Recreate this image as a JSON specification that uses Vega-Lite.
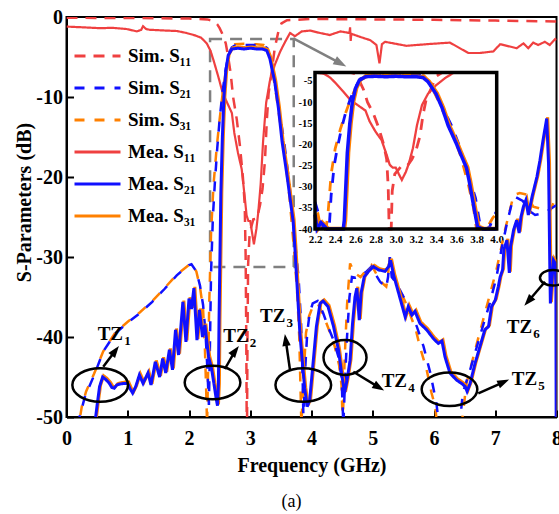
{
"$schema":"https://vega.github.io/schema/vega-lite/v6.json",
"width":490,"height":400,
"autosize":{"type":"none"},
"padding":{"left":66.5,"top":17,"right":2.5,"bottom":97},
"title":{"text":"(a)","orient":"bottom","anchor":"middle","font":"Liberation Serif","fontSize":18,"fontWeight":"normal","color":"black","offset":18,"dx":-20},
"datasets":{
"s11s":[{"f":0,"s11s":-0.1},{"f":1,"s11s":-0.12},{"f":2,"s11s":-0.2},{"f":2.3,"s11s":-0.3},{"f":2.4,"s11s":-0.5},{"f":2.46,"s11s":-0.9},{"f":2.5,"s11s":-1.4},{"f":2.55,"s11s":-2.2},{"f":2.6,"s11s":-3.3},{"f":2.64,"s11s":-5},{"f":2.68,"s11s":-7},{"f":2.72,"s11s":-10},{"f":2.78,"s11s":-12.8},{"f":2.83,"s11s":-16},{"f":2.88,"s11s":-20},{"f":2.91,"s11s":-23.5},{"f":2.925,"s11s":-30},{"f":2.935,"s11s":-40},{"f":2.945,"s11s":-55},{"f":2.955,"s11s":-40},{"f":2.965,"s11s":-31},{"f":2.99,"s11s":-27},{"f":3.05,"s11s":-25.3},{"f":3.11,"s11s":-25.2},{"f":3.16,"s11s":-23.5},{"f":3.2,"s11s":-21.5},{"f":3.24,"s11s":-18},{"f":3.27,"s11s":-13},{"f":3.3,"s11s":-9.5},{"f":3.35,"s11s":-6.8},{"f":3.4,"s11s":-3.9},{"f":3.46,"s11s":-1.8},{"f":3.51,"s11s":-0.8},{"f":3.6,"s11s":-0.4},{"f":4,"s11s":-0.25},{"f":5,"s11s":-0.3},{"f":6,"s11s":-0.35},{"f":7,"s11s":-0.45},{"f":8,"s11s":-0.55}],
"s11m":[{"f":0,"s11m":-1.2},{"f":0.3,"s11m":-1.3},{"f":0.55,"s11m":-1.4},{"f":0.75,"s11m":-1.35},{"f":0.98,"s11m":-1.5},{"f":1.15,"s11m":-1.8},{"f":1.22,"s11m":-1.6},{"f":1.25,"s11m":-1.15},{"f":1.3,"s11m":-1.5},{"f":1.36,"s11m":-1.6},{"f":1.64,"s11m":-1.7},{"f":1.8,"s11m":-1.75},{"f":1.96,"s11m":-2.0},{"f":2.1,"s11m":-2.3},{"f":2.2,"s11m":-2.6},{"f":2.29,"s11m":-3.3},{"f":2.35,"s11m":-4.2},{"f":2.4,"s11m":-5.4},{"f":2.48,"s11m":-7.5},{"f":2.55,"s11m":-9.5},{"f":2.64,"s11m":-11.0},{"f":2.7,"s11m":-12},{"f":2.74,"s11m":-14.5},{"f":2.8,"s11m":-17.0},{"f":2.86,"s11m":-19},{"f":2.91,"s11m":-22.5},{"f":2.94,"s11m":-24.8},{"f":2.97,"s11m":-25.5},{"f":3.0,"s11m":-25.5},{"f":3.03,"s11m":-27},{"f":3.06,"s11m":-28.4},{"f":3.1,"s11m":-26.5},{"f":3.13,"s11m":-24.5},{"f":3.17,"s11m":-20.9},{"f":3.21,"s11m":-15.5},{"f":3.26,"s11m":-10.7},{"f":3.32,"s11m":-8.0},{"f":3.4,"s11m":-6.0},{"f":3.49,"s11m":-4.3},{"f":3.57,"s11m":-3.1},{"f":3.65,"s11m":-2.0},{"f":3.73,"s11m":-2.4},{"f":3.84,"s11m":-1.8},{"f":3.98,"s11m":-1.7},{"f":4.14,"s11m":-2.0},{"f":4.3,"s11m":-2.25},{"f":4.47,"s11m":-1.8},{"f":4.62,"s11m":-2.0},{"f":4.63,"s11m":-1.3},{"f":4.64,"s11m":-3.0},{"f":4.65,"s11m":-2.1},{"f":4.8,"s11m":-2.5},{"f":4.96,"s11m":-2.9},{"f":5.06,"s11m":-3.5},{"f":5.11,"s11m":-5.8},{"f":5.15,"s11m":-3.4},{"f":5.2,"s11m":-3.1},{"f":5.55,"s11m":-3.6},{"f":5.88,"s11m":-3.4},{"f":6.26,"s11m":-3.2},{"f":6.56,"s11m":-4.5},{"f":6.75,"s11m":-4.5},{"f":6.97,"s11m":-4.3},{"f":7.08,"s11m":-3.4},{"f":7.35,"s11m":-3.9},{"f":7.46,"s11m":-3.3},{"f":7.54,"s11m":-3.9},{"f":7.62,"s11m":-3.2},{"f":7.7,"s11m":-3.5},{"f":7.81,"s11m":-3.1},{"f":7.89,"s11m":-3.5},{"f":7.98,"s11m":-2.75},{"f":8.0,"s11m":-2.9}],
"s21s":[{"f":0.18,"s21s":-51},{"f":0.23,"s21s":-49.5},{"f":0.3,"s21s":-47.5},{"f":0.45,"s21s":-44.8},{"f":0.6,"s21s":-41.8},{"f":0.8,"s21s":-39.5},{"f":1.0,"s21s":-38.2},{"f":1.2,"s21s":-37},{"f":1.4,"s21s":-35.6},{"f":1.6,"s21s":-34},{"f":1.8,"s21s":-32.3},{"f":2.0,"s21s":-31.0},{"f":2.04,"s21s":-30.9},{"f":2.12,"s21s":-31.8},{"f":2.18,"s21s":-33.6},{"f":2.23,"s21s":-36},{"f":2.27,"s21s":-39.5},{"f":2.3,"s21s":-44},{"f":2.325,"s21s":-48.5},{"f":2.34,"s21s":-42},{"f":2.36,"s21s":-32},{"f":2.39,"s21s":-25},{"f":2.42,"s21s":-21},{"f":2.46,"s21s":-16.5},{"f":2.5,"s21s":-12.8},{"f":2.55,"s21s":-9.2},{"f":2.6,"s21s":-6.5},{"f":2.65,"s21s":-4.5},{"f":2.7,"s21s":-3.8},{"f":2.75,"s21s":-3.55},{"f":2.9,"s21s":-3.5},{"f":3.1,"s21s":-3.5},{"f":3.22,"s21s":-3.6},{"f":3.28,"s21s":-3.9},{"f":3.33,"s21s":-5.3},{"f":3.42,"s21s":-9.1},{"f":3.55,"s21s":-15.4},{"f":3.64,"s21s":-20.9},{"f":3.72,"s21s":-27.2},{"f":3.79,"s21s":-32.7},{"f":3.83,"s21s":-38.3},{"f":3.855,"s21s":-45},{"f":3.87,"s21s":-51},{"f":3.89,"s21s":-45},{"f":3.93,"s21s":-39.5},{"f":3.97,"s21s":-37},{"f":4.02,"s21s":-35.8},{"f":4.1,"s21s":-35.5},{"f":4.19,"s21s":-37},{"f":4.27,"s21s":-38.7},{"f":4.36,"s21s":-40.4},{"f":4.44,"s21s":-42.5},{"f":4.49,"s21s":-45},{"f":4.52,"s21s":-51},{"f":4.55,"s21s":-45},{"f":4.58,"s21s":-40},{"f":4.62,"s21s":-35},{"f":4.66,"s21s":-32.5},{"f":4.72,"s21s":-32.6},{"f":4.8,"s21s":-32.4},{"f":4.9,"s21s":-31.8},{"f":4.98,"s21s":-31.2},{"f":5.05,"s21s":-32.2},{"f":5.12,"s21s":-33.1},{"f":5.22,"s21s":-33.8},{"f":5.25,"s21s":-32.5},{"f":5.28,"s21s":-30},{"f":5.31,"s21s":-32.5},{"f":5.39,"s21s":-33.3},{"f":5.53,"s21s":-35.4},{"f":5.72,"s21s":-38.7},{"f":5.83,"s21s":-41.2},{"f":5.94,"s21s":-44.5},{"f":6.04,"s21s":-48.3},{"f":6.08,"s21s":-51},{"f":6.42,"s21s":-51},{"f":6.47,"s21s":-47},{"f":6.59,"s21s":-44.1},{"f":6.78,"s21s":-39.1},{"f":6.91,"s21s":-35.8},{"f":7.02,"s21s":-32.5},{"f":7.1,"s21s":-29.1},{"f":7.19,"s21s":-25.8},{"f":7.27,"s21s":-23.3},{"f":7.33,"s21s":-22.5},{"f":7.45,"s21s":-23.0},{"f":7.57,"s21s":-24.3},{"f":7.65,"s21s":-24.75},{"f":7.8,"s21s":-24.5},{"f":7.92,"s21s":-23.9},{"f":8.0,"s21s":-23.5}],
"s31s":[{"f":0.2,"s31s":-51},{"f":0.25,"s31s":-48.7},{"f":0.32,"s31s":-46.8},{"f":0.45,"s31s":-44.6},{"f":0.6,"s31s":-41.8},{"f":0.8,"s31s":-39.4},{"f":1.0,"s31s":-38.1},{"f":1.2,"s31s":-36.9},{"f":1.4,"s31s":-35.5},{"f":1.6,"s31s":-33.9},{"f":1.8,"s31s":-32.2},{"f":2.0,"s31s":-31.0},{"f":2.04,"s31s":-30.85},{"f":2.12,"s31s":-31.8},{"f":2.18,"s31s":-33.8},{"f":2.23,"s31s":-36.5},{"f":2.26,"s31s":-41.5},{"f":2.28,"s31s":-46.5},{"f":2.295,"s31s":-51},{"f":2.31,"s31s":-45},{"f":2.33,"s31s":-36},{"f":2.36,"s31s":-27},{"f":2.4,"s31s":-21},{"f":2.45,"s31s":-16.5},{"f":2.5,"s31s":-12.8},{"f":2.55,"s31s":-9.5},{"f":2.6,"s31s":-6.8},{"f":2.65,"s31s":-4.7},{"f":2.7,"s31s":-3.7},{"f":2.75,"s31s":-3.4},{"f":2.9,"s31s":-3.35},{"f":3.1,"s31s":-3.4},{"f":3.22,"s31s":-3.5},{"f":3.28,"s31s":-3.8},{"f":3.33,"s31s":-5.2},{"f":3.42,"s31s":-9.6},{"f":3.55,"s31s":-16.5},{"f":3.64,"s31s":-22.5},{"f":3.72,"s31s":-29.5},{"f":3.77,"s31s":-35},{"f":3.8,"s31s":-40},{"f":3.835,"s31s":-51},{"f":3.87,"s31s":-45},{"f":3.91,"s31s":-39.5},{"f":3.96,"s31s":-37.4},{"f":4.02,"s31s":-36.2},{"f":4.1,"s31s":-35.8},{"f":4.19,"s31s":-37.2},{"f":4.28,"s31s":-39},{"f":4.38,"s31s":-41.2},{"f":4.45,"s31s":-43.5},{"f":4.49,"s31s":-46},{"f":4.51,"s31s":-51},{"f":4.54,"s31s":-43},{"f":4.58,"s31s":-36},{"f":4.63,"s31s":-30.8},{"f":4.7,"s31s":-32},{"f":4.8,"s31s":-32.5},{"f":4.9,"s31s":-31.6},{"f":4.98,"s31s":-31},{"f":5.05,"s31s":-32},{"f":5.12,"s31s":-33},{"f":5.22,"s31s":-33.7},{"f":5.25,"s31s":-32.5},{"f":5.27,"s31s":-29.8},{"f":5.3,"s31s":-32.3},{"f":5.39,"s31s":-33.2},{"f":5.53,"s31s":-35.6},{"f":5.7,"s31s":-39},{"f":5.77,"s31s":-41.2},{"f":5.88,"s31s":-44.1},{"f":5.96,"s31s":-47},{"f":6.02,"s31s":-48.7},{"f":6.05,"s31s":-51},{"f":6.45,"s31s":-51},{"f":6.53,"s31s":-45.8},{"f":6.7,"s31s":-40.8},{"f":6.86,"s31s":-36.2},{"f":7.02,"s31s":-31.6},{"f":7.16,"s31s":-26.6},{"f":7.3,"s31s":-22.25},{"f":7.4,"s31s":-22.0},{"f":7.51,"s31s":-22.2},{"f":7.62,"s31s":-23.7},{"f":7.89,"s31s":-24.3},{"f":7.95,"s31s":-23.25},{"f":8.0,"s31s":-22.9}],
"mea2":[{"f":0.46,"s21m":-51,"s31m":-51},{"f":0.5,"s21m":-48.5,"s31m":-48.5},{"f":0.54,"s21m":-46.2,"s31m":-46.2},{"f":0.59,"s21m":-45.0,"s31m":-45.0},{"f":0.64,"s21m":-45.3,"s31m":-45.3},{"f":0.7,"s21m":-45.8,"s31m":-45.8},{"f":0.74,"s21m":-46.3,"s31m":-46.3},{"f":0.78,"s21m":-46.4,"s31m":-46.4},{"f":0.82,"s21m":-46.0,"s31m":-46.0},{"f":0.86,"s21m":-45.9,"s31m":-45.9},{"f":0.94,"s21m":-45.8,"s31m":-45.8},{"f":1.0,"s21m":-45.8,"s31m":-45.8},{"f":1.04,"s21m":-46.5,"s31m":-46.5},{"f":1.08,"s21m":-47.0,"s31m":-47.0},{"f":1.13,"s21m":-46.2,"s31m":-46.2},{"f":1.19,"s21m":-44.75,"s31m":-44.75},{"f":1.25,"s21m":-45.8,"s31m":-45.8},{"f":1.33,"s21m":-44.5,"s31m":-44.5},{"f":1.38,"s21m":-46.0,"s31m":-46.0},{"f":1.45,"s21m":-43.1,"s31m":-43.1},{"f":1.52,"s21m":-45.0,"s31m":-45.0},{"f":1.57,"s21m":-42.7,"s31m":-42.7},{"f":1.62,"s21m":-44.5,"s31m":-44.5},{"f":1.68,"s21m":-41.6,"s31m":-41.6},{"f":1.73,"s21m":-44.1,"s31m":-44.1},{"f":1.78,"s21m":-39.1,"s31m":-39.1},{"f":1.83,"s21m":-42.25,"s31m":-42.25},{"f":1.9,"s21m":-35.6,"s31m":-35.6},{"f":1.95,"s21m":-40.6,"s31m":-40.6},{"f":2.0,"s21m":-35.2,"s31m":-35.2},{"f":2.04,"s21m":-36.5,"s31m":-36.5},{"f":2.08,"s21m":-33.9,"s31m":-33.9},{"f":2.13,"s21m":-40.4,"s31m":-40.4},{"f":2.17,"s21m":-36.6,"s31m":-36.6},{"f":2.22,"s21m":-40,"s31m":-40},{"f":2.26,"s21m":-38.5,"s31m":-38.5},{"f":2.32,"s21m":-42.5,"s31m":-42.5},{"f":2.37,"s21m":-44,"s31m":-44},{"f":2.4,"s21m":-45.5,"s31m":-45.5},{"f":2.44,"s21m":-47.5,"s31m":-47.5},{"f":2.465,"s21m":-48.6,"s31m":-48.6},{"f":2.48,"s21m":-46,"s31m":-46},{"f":2.49,"s21m":-38,"s31m":-38},{"f":2.505,"s21m":-30,"s31m":-30},{"f":2.52,"s21m":-22,"s31m":-22},{"f":2.545,"s21m":-15,"s31m":-15},{"f":2.57,"s21m":-10,"s31m":-10},{"f":2.6,"s21m":-6.8,"s31m":-6.8},{"f":2.64,"s21m":-4.8,"s31m":-4.8},{"f":2.7,"s21m":-4.0,"s31m":-4.0},{"f":2.8,"s21m":-3.9,"s31m":-3.9},{"f":2.9,"s21m":-4.0,"s31m":-4.0},{"f":3.0,"s21m":-3.9,"s31m":-3.9},{"f":3.1,"s21m":-4.0,"s31m":-4.0},{"f":3.2,"s21m":-4.0,"s31m":-4.0},{"f":3.27,"s21m":-4.2,"s31m":-4.2},{"f":3.32,"s21m":-5.2,"s31m":-5.2},{"f":3.4,"s21m":-8.1,"s31m":-8.1},{"f":3.46,"s21m":-11.4,"s31m":-11.4},{"f":3.52,"s21m":-15.6,"s31m":-15.6},{"f":3.6,"s21m":-19.8,"s31m":-19.8},{"f":3.65,"s21m":-22.7,"s31m":-22.7},{"f":3.7,"s21m":-25.5,"s31m":-25.5},{"f":3.73,"s21m":-29,"s31m":-29},{"f":3.76,"s21m":-33,"s31m":-33},{"f":3.81,"s21m":-39.5,"s31m":-39.5},{"f":3.86,"s21m":-44,"s31m":-44},{"f":3.89,"s21m":-46.5,"s31m":-46.5},{"f":3.93,"s21m":-48.7,"s31m":-48.7},{"f":3.97,"s21m":-47.9,"s31m":-47.9},{"f":4.03,"s21m":-42.9,"s31m":-42.9},{"f":4.08,"s21m":-38.7,"s31m":-38.7},{"f":4.14,"s21m":-35.8,"s31m":-35.8},{"f":4.19,"s21m":-35.5,"s31m":-35.5},{"f":4.27,"s21m":-36.2,"s31m":-36.2},{"f":4.36,"s21m":-38.7,"s31m":-38.7},{"f":4.44,"s21m":-41.6,"s31m":-41.6},{"f":4.49,"s21m":-44.5,"s31m":-44.5},{"f":4.54,"s21m":-47,"s31m":-47},{"f":4.58,"s21m":-45.4,"s31m":-45.4},{"f":4.63,"s21m":-42.9,"s31m":-42.9},{"f":4.67,"s21m":-38.3,"s31m":-38.3},{"f":4.71,"s21m":-35,"s31m":-35},{"f":4.74,"s21m":-33.9,"s31m":-33.9},{"f":4.78,"s21m":-37.9,"s31m":-37.9},{"f":4.81,"s21m":-34.5,"s31m":-34.5},{"f":4.86,"s21m":-32.5,"s31m":-32.5},{"f":4.93,"s21m":-31.8,"s31m":-31.8},{"f":5.01,"s21m":-31.2,"s31m":-31.2},{"f":5.09,"s21m":-31.6,"s31m":-31.6},{"f":5.2,"s21m":-31.8,"s31m":-31.8},{"f":5.26,"s21m":-31.2,"s31m":-31.2},{"f":5.29,"s21m":-30.4,"s31m":-30.4},{"f":5.34,"s21m":-32.25,"s31m":-32.25},{"f":5.44,"s21m":-35,"s31m":-35},{"f":5.53,"s21m":-37.5,"s31m":-37.5},{"f":5.58,"s21m":-36.2,"s31m":-36.2},{"f":5.64,"s21m":-37.25,"s31m":-37.25},{"f":5.69,"s21m":-36.8,"s31m":-36.8},{"f":5.77,"s21m":-38.3,"s31m":-38.3},{"f":5.88,"s21m":-39.1,"s31m":-39.1},{"f":5.99,"s21m":-40.2,"s31m":-40.2},{"f":6.07,"s21m":-40.8,"s31m":-40.8},{"f":6.13,"s21m":-40.5,"s31m":-40.5},{"f":6.18,"s21m":-42.5,"s31m":-42.5},{"f":6.26,"s21m":-44.5,"s31m":-44.5},{"f":6.37,"s21m":-45.4,"s31m":-45.4},{"f":6.45,"s21m":-45.8,"s31m":-45.8},{"f":6.51,"s21m":-46.2,"s31m":-46.2},{"f":6.54,"s21m":-46.8,"s31m":-46.8},{"f":6.59,"s21m":-45.8,"s31m":-45.8},{"f":6.67,"s21m":-43.3,"s31m":-43.3},{"f":6.75,"s21m":-41.2,"s31m":-41.2},{"f":6.83,"s21m":-39.1,"s31m":-39.1},{"f":6.89,"s21m":-38.7,"s31m":-38.7},{"f":6.94,"s21m":-36.2,"s31m":-36.2},{"f":7.0,"s21m":-35.4,"s31m":-35.4},{"f":7.05,"s21m":-33.7,"s31m":-33.7},{"f":7.08,"s21m":-32.5,"s31m":-32.5},{"f":7.12,"s21m":-31.6,"s31m":-31.6},{"f":7.14,"s21m":-29.1,"s31m":-29.1},{"f":7.19,"s21m":-27.9,"s31m":-27.9},{"f":7.23,"s21m":-32,"s31m":-32},{"f":7.25,"s21m":-28.7,"s31m":-28.7},{"f":7.3,"s21m":-26.6,"s31m":-26.6},{"f":7.35,"s21m":-25.4,"s31m":-25.4},{"f":7.39,"s21m":-27,"s31m":-27},{"f":7.42,"s21m":-25,"s31m":-25},{"f":7.46,"s21m":-23.7,"s31m":-23.7},{"f":7.5,"s21m":-22.9,"s31m":-22.9},{"f":7.54,"s21m":-24.75,"s31m":-24.75},{"f":7.6,"s21m":-22.5,"s31m":-22.5},{"f":7.68,"s21m":-20,"s31m":-20},{"f":7.73,"s21m":-17.9,"s31m":-17.9},{"f":7.78,"s21m":-15.4,"s31m":-15.4},{"f":7.84,"s21m":-12.7,"s31m":-12.7},{"f":7.87,"s21m":-18.3,"s31m":-18.3},{"f":7.89,"s21m":-30.8,"s31m":-30.8},{"f":7.9,"s21m":-35.8,"s31m":-35.8},{"f":7.93,"s21m":-32.5,"s31m":-32.5},{"f":7.95,"s21m":-30.4,"s31m":-30.4},{"f":7.98,"s21m":-30.8,"s31m":-30.8},{"f":7.99,"s21m":-34,"s31m":-34},{"f":7.995,"s21m":-52,"s31m":-52}],
"grect":[{"f1":2.344,"f2":3.71,"d1":-2.75,"d2":-31.25}],
"irect":[{"f1":2.2,"f2":4.0,"d1":-40,"d2":-3}],
"ellA":[{"f":0.55,"d":-46.0},{"f":2.384,"d":-45.69},{"f":3.866,"d":-46.0},{"f":6.253,"d":-46.54}],
"ellB":[{"f":4.547,"d":-42.56}],
"ellC":[{"f":7.942,"d":-32.6}],
"arrows":[{"n":"1","f1":0.6,"d1":-43.71,"f2":0.797,"d2":-41.71},{"n":"2","f1":2.585,"d1":-44.0,"f2":2.756,"d2":-41.71},{"n":"3","f1":3.649,"d1":-44.125,"f2":3.579,"d2":-40.37},{"n":"4","f1":4.682,"d1":-44.34,"f2":5.102,"d2":-46.3},{"n":"5","f1":6.723,"d1":-47.04,"f2":7.138,"d2":-45.63},{"n":"6","f1":7.812,"d1":-33.09,"f2":7.539,"d2":-35.53},{"n":"g","f1":3.703,"d1":-2.66,"f2":4.475,"d2":-5.8}],
"tz":[{"f":0.509,"d":-40.375,"n":"1"},{"f":2.56,"d":-40.59,"n":"2"},{"f":3.159,"d":-38.09,"n":"3"},{"f":5.146,"d":-46.21,"n":"4"},{"f":7.269,"d":-46.0,"n":"5"},{"f":7.187,"d":-39.54,"n":"6"}]
},
"layer":[
{"layer":[
{"data":{"name":"grect"},"mark":{"type":"rect","fill":null,"fillOpacity":0,"stroke":"#808080","strokeWidth":2.5,"strokeDash":[12,8]},
 "encoding":{
  "x":{"field":"f1","type":"quantitative","title":"Frequency (GHz)","scale":{"domain":[0,8],"nice":false,"zero":false},
   "axis":{"orient":"bottom","values":[0,0.5,1,1.5,2,2.5,3,3.5,4,4.5,5,5.5,6,6.5,7,7.5,8],"labelExpr":"datum.value % 1 === 0 ? '' + datum.value : ''","tickSize":{"condition":{"test":"datum.value % 1 !== 0","value":-4},"value":-7},"tickWidth":2,"tickColor":"black","domainWidth":2,"domainColor":"black","labelFont":"Liberation Serif","labelFontWeight":"bold","labelFontSize":20,"labelColor":"black","labelPadding":18,"labelFlush":false,"labelOverlap":false,"titleFont":"Liberation Serif","titleFontSize":20,"titleFontWeight":"bold","titleColor":"black","titlePadding":7,"grid":false}},
  "x2":{"field":"f2"},
  "y":{"field":"d1","type":"quantitative","title":"S-Parameters (dB)","scale":{"domain":[-50,0],"nice":false,"zero":false},
   "axis":{"orient":"left","values":[-50,-45,-40,-35,-30,-25,-20,-15,-10,-5,0],"labelExpr":"datum.value % 10 === 0 ? '' + datum.value : ''","tickSize":{"condition":{"test":"datum.value % 10 !== 0","value":-4},"value":-7},"tickWidth":2,"tickColor":"black","domainWidth":2,"domainColor":"black","labelFont":"Liberation Serif","labelFontWeight":"bold","labelFontSize":20,"labelColor":"black","labelPadding":11,"labelOverlap":false,"labelFlush":false,"titleFont":"Liberation Serif","titleFontSize":20,"titleFontWeight":"bold","titleColor":"black","titlePadding":1,"titleY":185,"grid":false}},
  "y2":{"field":"d2"}}},
{"data":{"name":"s11s"},"transform":[{"fold":["s11s"],"as":["k","v"]}],"mark":{"type":"line","clip":true,"strokeWidth":2.5},
 "encoding":{"x":{"field":"f","type":"quantitative","title":"Frequency (GHz)","scale":{"domain":[0,8],"nice":false,"zero":false}},"y":{"field":"v","type":"quantitative","title":"S-Parameters (dB)","scale":{"domain":[-50,0],"nice":false,"zero":false}},
  "color":{"field":"k","type":"nominal","scale":{"domain":["s11s","s21s","s31s","s11m","s21m","s31m"],"range":["#ef4040","#1010ff","#ff8000","#ef4040","#1010ff","#ff8000"]},"legend":{"title":null,"orient":"none","legendX":18,"legendY":26,"symbolType":"M-2,0L2,0","symbolSize":529,"symbolStrokeWidth":3,"labelOffset":17.5,"labelFont":"Liberation Serif","labelFontSize":19,"labelFontWeight":"bold","labelColor":"black","rowPadding":9,"padding":0,"labelExpr":"datum.label == 's11s' ? 'Sim. S₁₁' : datum.label == 's21s' ? 'Sim. S₂₁' : datum.label == 's31s' ? 'Sim. S₃₁' : datum.label == 's11m' ? 'Mea. S₁₁' : datum.label == 's21m' ? 'Mea. S₂₁' : 'Mea. S₃₁'"}},
  "strokeDash":{"field":"k","type":"nominal","scale":{"domain":["s11s","s21s","s31s","s11m","s21m","s31m"],"range":[[11,8],[10,10],[10,10],[1,0],[1,0],[1,0]]},"legend":{"title":null,"orient":"none","legendX":18,"legendY":26,"symbolType":"M-2,0L2,0","symbolSize":529,"symbolStrokeWidth":3,"labelOffset":17.5,"labelFont":"Liberation Serif","labelFontSize":19,"labelFontWeight":"bold","labelColor":"black","rowPadding":9,"padding":0,"labelExpr":"datum.label == 's11s' ? 'Sim. S₁₁' : datum.label == 's21s' ? 'Sim. S₂₁' : datum.label == 's31s' ? 'Sim. S₃₁' : datum.label == 's11m' ? 'Mea. S₁₁' : datum.label == 's21m' ? 'Mea. S₂₁' : 'Mea. S₃₁'"}}}},
{"data":{"name":"s11m"},"transform":[{"fold":["s11m"],"as":["k","v"]}],"mark":{"type":"line","clip":true,"strokeWidth":2.2},
 "encoding":{"x":{"field":"f","type":"quantitative","title":"Frequency (GHz)"},"y":{"field":"v","type":"quantitative","title":"S-Parameters (dB)"},"color":{"field":"k","type":"nominal"},"strokeDash":{"field":"k","type":"nominal"}}},
{"data":{"name":"s31s"},"transform":[{"fold":["s31s"],"as":["k","v"]}],"mark":{"type":"line","clip":true,"strokeWidth":2.5,"strokeDashOffset":10},
 "encoding":{"x":{"field":"f","type":"quantitative","title":"Frequency (GHz)"},"y":{"field":"v","type":"quantitative","title":"S-Parameters (dB)"},"color":{"field":"k","type":"nominal"},"strokeDash":{"field":"k","type":"nominal"}}},
{"data":{"name":"s21s"},"transform":[{"fold":["s21s"],"as":["k","v"]}],"mark":{"type":"line","clip":true,"strokeWidth":2.5},
 "encoding":{"x":{"field":"f","type":"quantitative","title":"Frequency (GHz)"},"y":{"field":"v","type":"quantitative","title":"S-Parameters (dB)"},"color":{"field":"k","type":"nominal"},"strokeDash":{"field":"k","type":"nominal"}}},
{"data":{"name":"mea2"},"transform":[{"fold":["s31m"],"as":["k","v"]}],"mark":{"type":"line","clip":true,"strokeWidth":3,"xOffset":1,"yOffset":-1.3},
 "encoding":{"x":{"field":"f","type":"quantitative","title":"Frequency (GHz)"},"y":{"field":"v","type":"quantitative","title":"S-Parameters (dB)"},"color":{"field":"k","type":"nominal"},"strokeDash":{"field":"k","type":"nominal"}}},
{"data":{"name":"mea2"},"transform":[{"fold":["s21m"],"as":["k","v"]}],"mark":{"type":"line","clip":true,"strokeWidth":3},
 "encoding":{"x":{"field":"f","type":"quantitative","title":"Frequency (GHz)"},"y":{"field":"v","type":"quantitative","title":"S-Parameters (dB)"},"color":{"field":"k","type":"nominal"},"strokeDash":{"field":"k","type":"nominal"}}},
{"data":{"name":"ellA"},"mark":{"type":"point","shape":"M-1,0A1,0.6,0,1,0,1,0A1,0.6,0,1,0,-1,0Z","size":3100,"filled":false,"stroke":"black","strokeWidth":2.5,"opacity":1},
 "encoding":{"x":{"field":"f","type":"quantitative","title":"Frequency (GHz)"},"y":{"field":"d","type":"quantitative","title":"S-Parameters (dB)"}}},
{"data":{"name":"ellB"},"mark":{"type":"point","shape":"M-1,0A1,0.81,0,1,0,1,0A1,0.81,0,1,0,-1,0Z","size":1849,"filled":false,"stroke":"black","strokeWidth":2.5,"opacity":1},
 "encoding":{"x":{"field":"f","type":"quantitative","title":"Frequency (GHz)"},"y":{"field":"d","type":"quantitative","title":"S-Parameters (dB)"}}},
{"data":{"name":"ellC"},"mark":{"type":"point","shape":"M-1,0A1,0.6,0,1,0,1,0A1,0.6,0,1,0,-1,0Z","size":676,"filled":false,"stroke":"black","strokeWidth":2.5,"opacity":1},
 "encoding":{"x":{"field":"f","type":"quantitative","title":"Frequency (GHz)"},"y":{"field":"d","type":"quantitative","title":"S-Parameters (dB)"}}},
{"data":{"name":"arrows"},"transform":[{"filter":"datum.n != 'g'"}],"mark":{"type":"rule","color":"black","strokeWidth":2.5},
 "encoding":{"x":{"field":"f1","type":"quantitative","title":"Frequency (GHz)"},"y":{"field":"d1","type":"quantitative","title":"S-Parameters (dB)"},"x2":{"field":"f2"},"y2":{"field":"d2"}}},
{"data":{"name":"arrows"},"transform":[{"filter":"datum.n == 'g'"}],"mark":{"type":"rule","color":"#808080","strokeWidth":2.5},
 "encoding":{"x":{"field":"f1","type":"quantitative","title":"Frequency (GHz)"},"y":{"field":"d1","type":"quantitative","title":"S-Parameters (dB)"},"x2":{"field":"f2"},"y2":{"field":"d2"}}},
{"data":{"name":"arrows"},"transform":[{"filter":"datum.n == '1' || datum.n == '2'"}],"mark":{"type":"point","shape":"M0,-1L0.7,1L-0.7,1Z","size":144,"filled":true,"color":"black","opacity":1,"angle":37},
 "encoding":{"x":{"field":"f2","type":"quantitative","title":"Frequency (GHz)"},"y":{"field":"d2","type":"quantitative","title":"S-Parameters (dB)"}}},
{"data":{"name":"arrows"},"transform":[{"filter":"datum.n == '3'"}],"mark":{"type":"point","shape":"M0,-1L0.7,1L-0.7,1Z","size":144,"filled":true,"color":"black","opacity":1,"angle":-8},
 "encoding":{"x":{"field":"f2","type":"quantitative","title":"Frequency (GHz)"},"y":{"field":"d2","type":"quantitative","title":"S-Parameters (dB)"}}},
{"data":{"name":"arrows"},"transform":[{"filter":"datum.n == '4'"}],"mark":{"type":"point","shape":"M0,-1L0.7,1L-0.7,1Z","size":144,"filled":true,"color":"black","opacity":1,"angle":121},
 "encoding":{"x":{"field":"f2","type":"quantitative","title":"Frequency (GHz)"},"y":{"field":"d2","type":"quantitative","title":"S-Parameters (dB)"}}},
{"data":{"name":"arrows"},"transform":[{"filter":"datum.n == '5'"}],"mark":{"type":"point","shape":"M0,-1L0.7,1L-0.7,1Z","size":144,"filled":true,"color":"black","opacity":1,"angle":66},
 "encoding":{"x":{"field":"f2","type":"quantitative","title":"Frequency (GHz)"},"y":{"field":"d2","type":"quantitative","title":"S-Parameters (dB)"}}},
{"data":{"name":"arrows"},"transform":[{"filter":"datum.n == '6'"}],"mark":{"type":"point","shape":"M0,-1L0.7,1L-0.7,1Z","size":144,"filled":true,"color":"black","opacity":1,"angle":221},
 "encoding":{"x":{"field":"f2","type":"quantitative","title":"Frequency (GHz)"},"y":{"field":"d2","type":"quantitative","title":"S-Parameters (dB)"}}},
{"data":{"name":"arrows"},"transform":[{"filter":"datum.n == 'g'"}],"mark":{"type":"point","shape":"M0,-1L0.7,1L-0.7,1Z","size":170,"filled":true,"color":"#808080","opacity":1,"angle":118},
 "encoding":{"x":{"field":"f2","type":"quantitative","title":"Frequency (GHz)"},"y":{"field":"d2","type":"quantitative","title":"S-Parameters (dB)"}}},
{"data":{"name":"tz"},"mark":{"type":"text","text":"TZ","align":"left","baseline":"alphabetic","font":"Liberation Serif","fontWeight":"bold","fontSize":19,"color":"black"},
 "encoding":{"x":{"field":"f","type":"quantitative","title":"Frequency (GHz)"},"y":{"field":"d","type":"quantitative","title":"S-Parameters (dB)"}}},
{"data":{"name":"tz"},"mark":{"type":"text","align":"left","baseline":"alphabetic","font":"Liberation Serif","fontWeight":"bold","fontSize":13,"color":"black","dx":26.5,"dy":5},
 "encoding":{"x":{"field":"f","type":"quantitative","title":"Frequency (GHz)"},"y":{"field":"d","type":"quantitative","title":"S-Parameters (dB)"},"text":{"field":"n"}}}
]},
{"layer":[
{"data":{"name":"irect"},"mark":{"type":"rect","fill":"white","stroke":null},
 "encoding":{
  "x":{"field":"f1","type":"quantitative","title":null,"scale":{"domain":[2.2,4.0],"range":[248.5,430.2],"nice":false,"zero":false,"clamp":true},
   "axis":{"orient":"bottom","offset":-188,"domain":false,"values":[2.2,2.3,2.4,2.5,2.6,2.7,2.8,2.9,3.0,3.1,3.2,3.3,3.4,3.5,3.6,3.7,3.8,3.9,4.0],"labelExpr":"round(datum.value*10) % 2 === 0 ? format(datum.value, '.1f') : ''","tickSize":-3,"tickWidth":1.5,"tickColor":"black","labelFont":"Liberation Serif","labelFontWeight":"bold","labelFontSize":11,"labelColor":"black","labelPadding":7,"labelFlush":false,"labelOverlap":false,"grid":false}},
  "x2":{"field":"f2"},
  "y":{"field":"d1","type":"quantitative","title":null,"scale":{"domain":[-40,-3],"range":[212,55.5],"nice":false,"zero":false,"clamp":true},
   "axis":{"orient":"left","offset":-248.5,"domain":false,"values":[-40,-35,-30,-25,-20,-15,-10,-5],"labelExpr":"'' + datum.value","tickSize":-3,"tickWidth":1.5,"tickColor":"black","labelFont":"Liberation Serif","labelFontWeight":"bold","labelFontSize":10.5,"labelColor":"black","labelPadding":6,"labelFlush":false,"labelOverlap":false,"grid":false}},
  "y2":{"field":"d2"}}},
{"data":{"name":"s11s"},"transform":[{"fold":["s11s"],"as":["k","v"]},{"filter":"datum.f >= 2.15 && datum.f <= 4.05"}],"mark":{"type":"line","strokeWidth":2.8},
 "encoding":{"x":{"field":"f","type":"quantitative","title":null},"y":{"field":"v","type":"quantitative","title":null},"color":{"field":"k","type":"nominal"},"strokeDash":{"field":"k","type":"nominal"}}},
{"data":{"name":"s11m"},"transform":[{"fold":["s11m"],"as":["k","v"]},{"filter":"datum.f >= 2.15 && datum.f <= 4.05"}],"mark":{"type":"line","strokeWidth":2.3},
 "encoding":{"x":{"field":"f","type":"quantitative","title":null},"y":{"field":"v","type":"quantitative","title":null},"color":{"field":"k","type":"nominal"},"strokeDash":{"field":"k","type":"nominal"}}},
{"data":{"name":"s31s"},"transform":[{"fold":["s31s"],"as":["k","v"]},{"filter":"datum.f >= 2.15 && datum.f <= 4.05"}],"mark":{"type":"line","strokeWidth":2.8,"strokeDashOffset":10},
 "encoding":{"x":{"field":"f","type":"quantitative","title":null},"y":{"field":"v","type":"quantitative","title":null},"color":{"field":"k","type":"nominal"},"strokeDash":{"field":"k","type":"nominal"}}},
{"data":{"name":"s21s"},"transform":[{"fold":["s21s"],"as":["k","v"]},{"filter":"datum.f >= 2.15 && datum.f <= 4.05"}],"mark":{"type":"line","strokeWidth":2.8},
 "encoding":{"x":{"field":"f","type":"quantitative","title":null},"y":{"field":"v","type":"quantitative","title":null},"color":{"field":"k","type":"nominal"},"strokeDash":{"field":"k","type":"nominal"}}},
{"data":{"name":"mea2"},"transform":[{"fold":["s31m"],"as":["k","v"]},{"filter":"datum.f >= 2.15 && datum.f <= 4.05"}],"mark":{"type":"line","strokeWidth":3.5,"xOffset":1.3,"yOffset":-0.5},
 "encoding":{"x":{"field":"f","type":"quantitative","title":null},"y":{"field":"v","type":"quantitative","title":null},"color":{"field":"k","type":"nominal"},"strokeDash":{"field":"k","type":"nominal"}}},
{"data":{"name":"mea2"},"transform":[{"fold":["s21m"],"as":["k","v"]},{"filter":"datum.f >= 2.15 && datum.f <= 4.05"}],"mark":{"type":"line","strokeWidth":3.5},
 "encoding":{"x":{"field":"f","type":"quantitative","title":null},"y":{"field":"v","type":"quantitative","title":null},"color":{"field":"k","type":"nominal"},"strokeDash":{"field":"k","type":"nominal"}}},
{"data":{"name":"irect"},"mark":{"type":"rect","fill":null,"fillOpacity":0,"stroke":"black","strokeWidth":3.5},
 "encoding":{"x":{"field":"f1","type":"quantitative","title":null},"x2":{"field":"f2"},"y":{"field":"d1","type":"quantitative","title":null},"y2":{"field":"d2"}}}
]}
],
"resolve":{"scale":{"x":"independent","y":"independent"},"axis":{"x":"independent","y":"independent"}},
"config":{"view":{"stroke":"black","strokeWidth":2},"font":"Liberation Serif","axis":{"grid":false}}
}
